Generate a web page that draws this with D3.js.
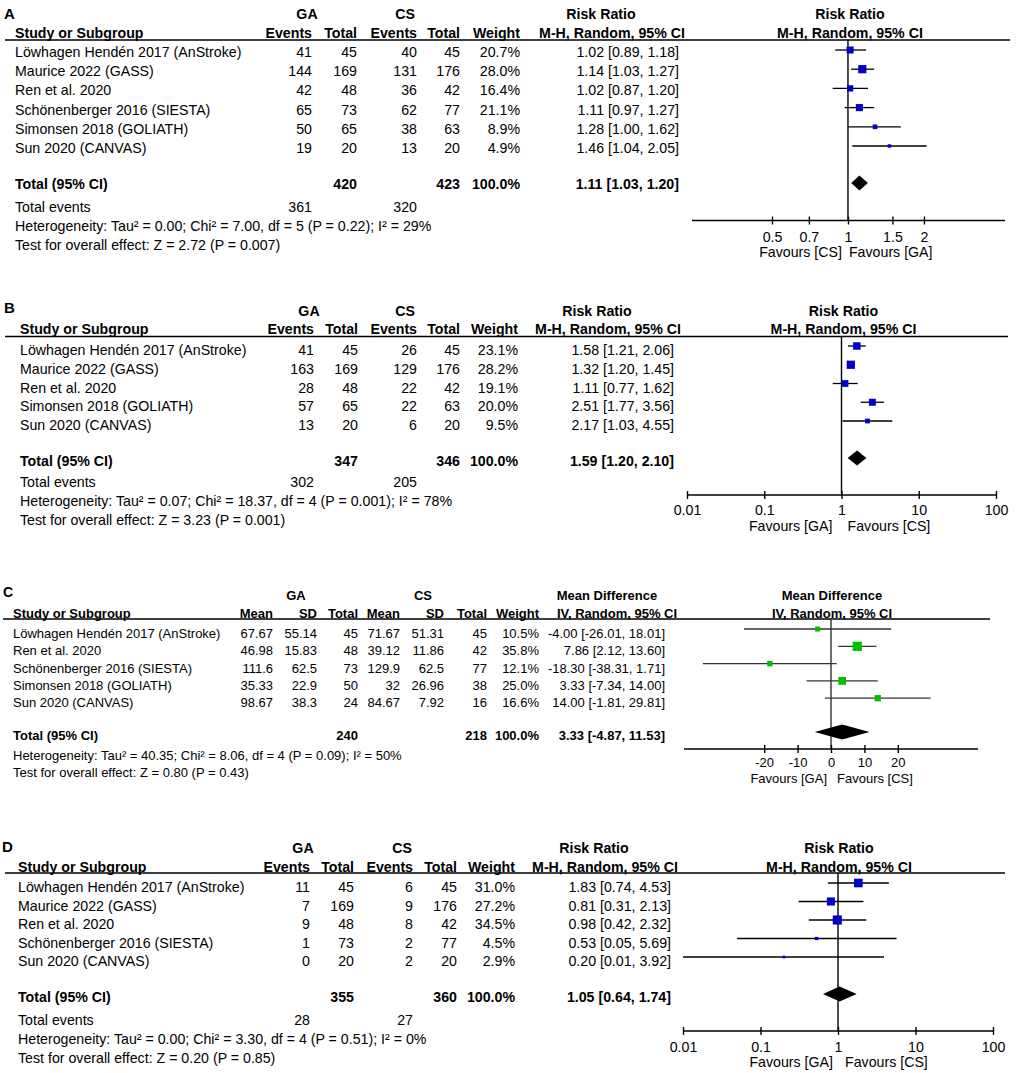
<!DOCTYPE html>
<html><head><meta charset="utf-8">
<script src="https://cdn.jsdelivr.net/npm/d3@7"></script>
<style>
body{margin:0;background:#fff}
svg text{font-family:"Liberation Sans",Arial,sans-serif;fill:#000}
</style>
</head><body>
<svg id="chart" width="1021" height="1073"></svg>
<script>
// ---------- DATA ----------
// Panel A
const studiesA = ["Löwhagen Hendén 2017 (AnStroke)","Maurice 2022 (GASS)","Ren et al. 2020","Schönenberger 2016 (SIESTA)","Simonsen 2018 (GOLIATH)","Sun 2020 (CANVAS)"];
const gaEventsA = [41,144,42,65,50,19];
const gaTotalA  = [45,169,48,73,65,20];
const csEventsA = [40,131,36,62,38,13];
const csTotalA  = [45,176,42,77,63,20];
const weightA   = [20.7,28.0,16.4,21.1,8.9,4.9];
const estA = [1.02,1.14,1.02,1.11,1.28,1.46];
const loA  = [0.89,1.03,0.87,0.97,1.00,1.04];
const hiA  = [1.18,1.27,1.20,1.27,1.62,2.05];
const totalA = [420,423];
const totalEstA = [1.11,1.03,1.20];
const totalEventsA = [361,320];
const hetA = "Heterogeneity: Tau² = 0.00; Chi² = 7.00, df = 5 (P = 0.22); I² = 29%";
const testA = "Test for overall effect: Z = 2.72 (P = 0.007)";
const ticksA = [0.5,0.7,1,1.5,2];
const favA = ["Favours [CS]","Favours [GA]"];

// Panel B
const studiesB = ["Löwhagen Hendén 2017 (AnStroke)","Maurice 2022 (GASS)","Ren et al. 2020","Simonsen 2018 (GOLIATH)","Sun 2020 (CANVAS)"];
const gaEventsB = [41,163,28,57,13];
const gaTotalB  = [45,169,48,65,20];
const csEventsB = [26,129,22,22,6];
const csTotalB  = [45,176,42,63,20];
const weightB   = [23.1,28.2,19.1,20.0,9.5];
const estB = [1.58,1.32,1.11,2.51,2.17];
const loB  = [1.21,1.20,0.77,1.77,1.03];
const hiB  = [2.06,1.45,1.62,3.56,4.55];
const totalB = [347,346];
const totalEstB = [1.59,1.20,2.10];
const totalEventsB = [302,205];
const hetB = "Heterogeneity: Tau² = 0.07; Chi² = 18.37, df = 4 (P = 0.001); I² = 78%";
const testB = "Test for overall effect: Z = 3.23 (P = 0.001)";
const ticksB = [0.01,0.1,1,10,100];
const favB = ["Favours [GA]","Favours [CS]"];

// Panel C
const studiesC = ["Löwhagen Hendén 2017 (AnStroke)","Ren et al. 2020","Schönenberger 2016 (SIESTA)","Simonsen 2018 (GOLIATH)","Sun 2020 (CANVAS)"];
const gaMeanC = [67.67,46.98,111.6,35.33,98.67];
const gaSdC   = [55.14,15.83,62.5,22.9,38.3];
const gaTotalC= [45,48,73,50,24];
const csMeanC = [71.67,39.12,129.9,32,84.67];
const csSdC   = [51.31,11.86,62.5,26.96,7.92];
const csTotalC= [45,42,77,38,16];
const weightC = [10.5,35.8,12.1,25.0,16.6];
const estC = [-4.00,7.86,-18.30,3.33,14.00];
const loC  = [-26.01,2.12,-38.31,-7.34,-1.81];
const hiC  = [18.01,13.60,1.71,14.00,29.81];
const totalC = [240,218];
const totalEstC = [3.33,-4.87,11.53];
const hetC = "Heterogeneity: Tau² = 40.35; Chi² = 8.06, df = 4 (P = 0.09); I² = 50%";
const testC = "Test for overall effect: Z = 0.80 (P = 0.43)";
const ticksC = [-20,-10,0,10,20];
const favC = ["Favours [GA]","Favours [CS]"];

// Panel D
const studiesD = ["Löwhagen Hendén 2017 (AnStroke)","Maurice 2022 (GASS)","Ren et al. 2020","Schönenberger 2016 (SIESTA)","Sun 2020 (CANVAS)"];
const gaEventsD = [11,7,9,1,0];
const gaTotalD  = [45,169,48,73,20];
const csEventsD = [6,9,8,2,2];
const csTotalD  = [45,176,42,77,20];
const weightD   = [31.0,27.2,34.5,4.5,2.9];
const estD = [1.83,0.81,0.98,0.53,0.20];
const loD  = [0.74,0.31,0.42,0.05,0.01];
const hiD  = [4.53,2.13,2.32,5.69,3.92];
const totalD = [355,360];
const totalEstD = [1.05,0.64,1.74];
const totalEventsD = [28,27];
const hetD = "Heterogeneity: Tau² = 0.00; Chi² = 3.30, df = 4 (P = 0.51); I² = 0%";
const testD = "Test for overall effect: Z = 0.20 (P = 0.85)";
const ticksD = [0.01,0.1,1,10,100];
const favD = ["Favours [GA]","Favours [CS]"];

const groups = ["GA","CS"];
const dichHeads = ["Events","Total","Events","Total","Weight"];
const contHeads = ["Mean","SD","Total","Mean","SD","Total","Weight"];

// ---------- DRAWING ----------
const svg = d3.select("#chart");
const sizeScale = d3.scaleSqrt().domain([0,100]).range([0,15.5]);

function txt(g,x,y,s,o={}){
  return g.append("text").attr("x",x).attr("y",y).text(s)
    .attr("text-anchor",o.anchor||"start")
    .attr("font-size",o.size||14)
    .attr("font-weight",o.bold?"bold":"normal");
}
const f2 = v => v.toFixed(2);
const effStr = (e,l,h) => `${f2(e)} [${f2(l)}, ${f2(h)}]`;

function drawPanel(L, P){
  const g = svg.append("g");
  const fs = L.fs;
  txt(g,L.labelX,L.labelY,L.label,{size:L.labelFs,bold:true});
  // headers
  L.groupX.forEach((x,i)=>txt(g,x,L.hdr1Y,groups[i],{anchor:"middle",bold:true,size:fs}));
  txt(g,L.studyX,L.hdr2Y,"Study or Subgroup",{bold:true,size:fs});
  P.heads.forEach((h,i)=>txt(g,L.colX[i],L.hdr2Y,h,{anchor:"end",bold:true,size:fs}));
  txt(g,L.effHdrX[0],L.hdr1Y,P.effName,{anchor:"middle",bold:true,size:fs});
  txt(g,L.effHdrX[1],L.hdr2Y,P.effMethod,{anchor:"middle",bold:true,size:fs});

  const x = (P.log ? d3.scaleLog() : d3.scaleLinear()).domain(L.domain).range(L.axisX);
  const x0 = x(P.log ? 1 : 0);
  txt(g,x0+L.plotHdrDx,L.hdr1Y,P.effName,{anchor:"middle",bold:true,size:fs});
  txt(g,x0+L.plotHdrDx,L.hdr2Y,P.effMethod,{anchor:"middle",bold:true,size:fs});

  g.append("line").attr("x1",L.lineX[0]).attr("x2",L.lineX[1]).attr("y1",L.lineY).attr("y2",L.lineY)
    .attr("stroke","#000").attr("stroke-width",1.4);

  const n = P.studies.length;
  const y = d3.scaleLinear().domain([0,n-1]).range([L.rowY0, L.rowY0 + L.rowStep*(n-1)]);

  // table rows
  P.studies.forEach((s,i)=>{
    const ty = y(i)+L.textDy;
    txt(g,L.studyX,ty,s,{size:fs});
    P.cols.forEach((col,j)=>txt(g,L.colX[j],ty,col[i],{anchor:"end",size:fs}));
    txt(g,L.colX[P.cols.length],ty,P.weight[i].toFixed(1)+"%",{anchor:"end",size:fs});
    txt(g,L.effColX,ty,effStr(P.est[i],P.lo[i],P.hi[i]),{anchor:"end",size:fs});
  });
  // total row
  const tty = L.totalY + L.totalDy;
  txt(g,L.studyX,tty,"Total (95% CI)",{bold:true,size:fs});
  txt(g,L.colX[P.totIdx[0]],tty,P.total[0],{anchor:"end",bold:true,size:fs});
  txt(g,L.colX[P.totIdx[1]],tty,P.total[1],{anchor:"end",bold:true,size:fs});
  txt(g,L.colX[P.cols.length],tty,"100.0%",{anchor:"end",bold:true,size:fs});
  txt(g,L.effColX,tty,effStr(...P.totalEst),{anchor:"end",bold:true,size:fs});
  if(P.totalEvents){
    txt(g,L.studyX,L.evY,"Total events",{size:fs});
    txt(g,L.colX[0],L.evY,P.totalEvents[0],{anchor:"end",size:fs});
    txt(g,L.colX[2],L.evY,P.totalEvents[1],{anchor:"end",size:fs});
  }
  txt(g,L.studyX,L.hetY,P.het,{size:fs});
  txt(g,L.studyX,L.testY,P.test,{size:fs});

  // plot: zero line
  g.append("line").attr("x1",x0).attr("x2",x0).attr("y1",L.lineY).attr("y2",L.axisY)
    .attr("stroke",P.lineColor).attr("stroke-width",1.4);
  // CIs and squares
  const dmin = L.domain[0], dmax = L.domain[1];
  P.studies.forEach((s,i)=>{
    g.append("line").attr("x1",x(Math.max(P.lo[i],dmin))).attr("x2",x(Math.min(P.hi[i],dmax)))
      .attr("y1",y(i)).attr("y2",y(i)).attr("stroke",P.lineColor).attr("stroke-width",1.3);
    const sz = sizeScale(P.weight[i]);
    g.append("rect").attr("x",x(P.est[i])-sz/2).attr("y",y(i)-sz/2).attr("width",sz).attr("height",sz)
      .attr("fill",P.color);
  });
  // diamond
  const [te,tl,th] = P.totalEst, dh = 7.5, ty0 = L.totalY;
  g.append("polygon").attr("points",[[x(tl),ty0],[x(te),ty0-dh],[x(th),ty0],[x(te),ty0+dh]].map(p=>p.join(",")).join(" "))
    .attr("fill","#000");
  // axis
  g.append("line").attr("x1",L.axisX[0]).attr("x2",L.axisX[1]).attr("y1",L.axisY).attr("y2",L.axisY)
    .attr("stroke","#000").attr("stroke-width",1.4);
  const ax = g.append("g").attr("transform",`translate(0,${L.axisY})`)
    .call(d3.axisBottom(x).tickValues(P.ticks).tickFormat(d=>String(d)).tickSizeOuter(0).tickSizeInner(4));
  ax.select(".domain").remove();
  ax.selectAll(".tick line").attr("y1",-4).attr("y2",4).attr("stroke","#000").attr("stroke-width",1.4);
  ax.selectAll(".tick text").attr("y",L.tickLabY-L.axisY).attr("dy",null).attr("font-size",fs);
  txt(g,x0-L.favGap[0],L.favY,P.fav[0],{anchor:"end",size:fs});
  txt(g,x0+L.favGap[1],L.favY,P.fav[1],{anchor:"start",size:fs});
}

const dichCols = (a,b,c,d)=>[a,b,c,d];

drawPanel(
 {label:"A",labelX:4,labelY:19,labelFs:15,fs:14.2,hdr1Y:19,hdr2Y:38,lineY:40,lineX:[5,1010],studyX:15,
  colX:[312,357,417,460,520],groupX:[307,405],effColX:679,effHdrX:[601,612],plotHdrDx:2,
  rowY0:50,rowStep:19.2,textDy:7,totalY:183,totalDy:6,evY:212,hetY:231,testY:250,
  axisY:220.5,axisX:[692,1005],domain:[0.241,4.19],tickLabY:242,favY:257,favGap:[6,1]},
 {studies:studiesA,heads:dichHeads,cols:dichCols(gaEventsA,gaTotalA,csEventsA,csTotalA),weight:weightA,
  est:estA,lo:loA,hi:hiA,total:totalA,totIdx:[1,3],totalEst:totalEstA,totalEvents:totalEventsA,het:hetA,test:testA,
  effName:"Risk Ratio",effMethod:"M-H, Random, 95% CI",log:true,ticks:ticksA,fav:favA,color:"#0000c8",lineColor:"#000"});

drawPanel(
 {label:"B",labelX:4,labelY:313,labelFs:15,fs:14.2,hdr1Y:316,hdr2Y:334,lineY:336.5,lineX:[5,1008],studyX:20,
  colX:[314,358,417,460,518],groupX:[309,405],effColX:674,effHdrX:[597,608],plotHdrDx:2,
  rowY0:346,rowStep:18.75,textDy:9,totalY:458,totalDy:8,evY:487,hetY:506,testY:525,
  axisY:495,axisX:[687,996],domain:[0.01,100],tickLabY:515,favY:531,favGap:[9,6]},
 {studies:studiesB,heads:dichHeads,cols:dichCols(gaEventsB,gaTotalB,csEventsB,csTotalB),weight:weightB,
  est:estB,lo:loB,hi:hiB,total:totalB,totIdx:[1,3],totalEst:totalEstB,totalEvents:totalEventsB,het:hetB,test:testB,
  effName:"Risk Ratio",effMethod:"M-H, Random, 95% CI",log:true,ticks:ticksB,fav:favB,color:"#0000c8",lineColor:"#000"});

drawPanel(
 {label:"C",labelX:3,labelY:597,labelFs:14,fs:13,hdr1Y:600,hdr2Y:618,lineY:619,lineX:[3,990],studyX:13,
  colX:[273,317,358,400,444,487,539],groupX:[296,423],effColX:665,effHdrX:[607,617],plotHdrDx:1,
  rowY0:629,rowStep:17.3,textDy:9,totalY:732,totalDy:8,hetY:760,testY:777,
  axisY:749,axisX:[684,978],domain:[-44,44],tickLabY:767,favY:783,favGap:[4,6]},
 {studies:studiesC,heads:contHeads,cols:[gaMeanC,gaSdC,gaTotalC,csMeanC,csSdC,csTotalC],weight:weightC,
  est:estC,lo:loC,hi:hiC,total:totalC,totIdx:[2,5],totalEst:totalEstC,totalEvents:null,het:hetC,test:testC,
  effName:"Mean Difference",effMethod:"IV, Random, 95% CI",log:false,ticks:ticksC,fav:favC,color:"#00c000",lineColor:"#333"});

drawPanel(
 {label:"D",labelX:2,labelY:852,labelFs:15,fs:14.2,hdr1Y:853,hdr2Y:872,lineY:873,lineX:[5,1005],studyX:18,
  colX:[310,354,413,457,515],groupX:[303,402],effColX:671,effHdrX:[594,605],plotHdrDx:1,
  rowY0:883,rowStep:18.5,textDy:9,totalY:994,totalDy:8,evY:1025,hetY:1044,testY:1063,
  axisY:1031,axisX:[683,993],domain:[0.01,100],tickLabY:1052,favY:1067,favGap:[5,7]},
 {studies:studiesD,heads:dichHeads,cols:dichCols(gaEventsD,gaTotalD,csEventsD,csTotalD),weight:weightD,
  est:estD,lo:loD,hi:hiD,total:totalD,totIdx:[1,3],totalEst:totalEstD,totalEvents:totalEventsD,het:hetD,test:testD,
  effName:"Risk Ratio",effMethod:"M-H, Random, 95% CI",log:true,ticks:ticksD,fav:favD,color:"#0000c8",lineColor:"#000"});
</script>
</body></html>
